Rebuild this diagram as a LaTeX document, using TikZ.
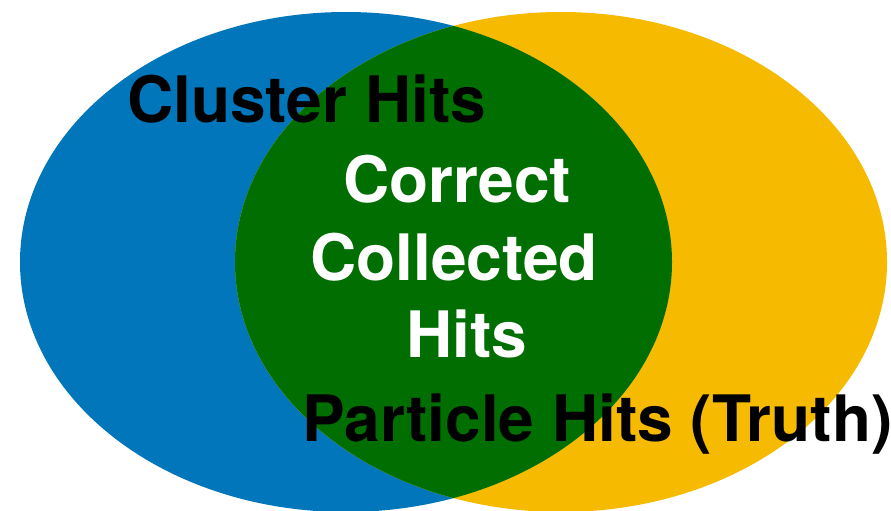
\documentclass[tikz,border=0pt]{standalone}
\usepackage{fontspec}
\setmainfont{TeX Gyre Heros}
\definecolor{vblue}{RGB}{1,118,186}
\definecolor{vyellow}{RGB}{246,186,0}
\definecolor{vgreen}{RGB}{0,110,0}
\begin{document}
\begin{tikzpicture}[x=1pt,y=-1pt,
  lbl/.style={anchor=base west,inner sep=0pt,font=\fontsize{64}{70}\selectfont\bfseries}]
\useasboundingbox (0,0) rectangle (891,511);
\fill[vblue] (346,262) ellipse [x radius=326, y radius=250];
\fill[vyellow] (561,262) ellipse [x radius=326, y radius=250];
\begin{scope}
  \clip (346,262) ellipse [x radius=326, y radius=250];
  \fill[vgreen] (561,262) ellipse [x radius=326, y radius=250];
\end{scope}
\node[lbl,text=black] (cluster) at (127,122) {Cluster Hits};
\node[lbl,text=white] (correct) at (343,202) {Correct};
\node[lbl,text=white] (collected) at (310,280) {Collected};
\node[lbl,text=white] (hits) at (406,357) {Hits};
\node[lbl,text=black] (particle) at (302,441) {Particle Hits (Truth)};
\end{tikzpicture}
\end{document}
